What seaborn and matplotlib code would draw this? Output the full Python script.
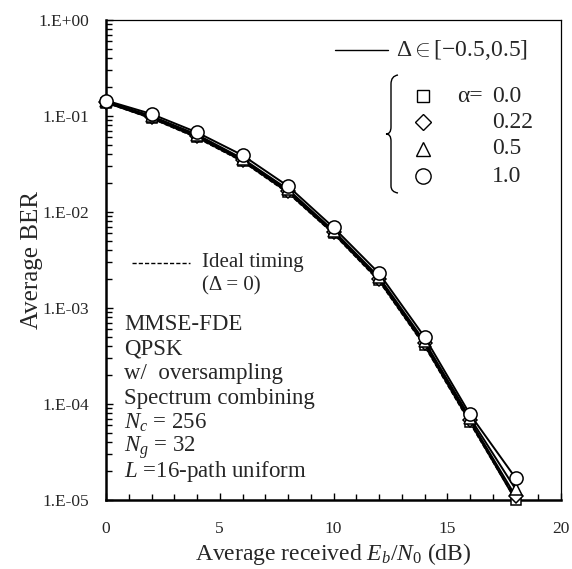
import matplotlib

matplotlib.use("Agg")

import matplotlib.pyplot as plt
import matplotlib.ticker as mticker
from matplotlib.path import Path
from matplotlib.patches import PathPatch
import numpy as np
import pandas as pd
import seaborn as sns

# ---- data ----
snr_db = [0, 2, 4, 6, 8, 10, 12, 14, 16, 18]
ber_alpha_00 = [0.138, 0.095, 0.060, 0.034, 0.0160, 0.0060, 0.00195, 0.00041, 6.5e-5, 1.0e-5]
ber_alpha_022 = [0.140, 0.098, 0.062, 0.035, 0.0167, 0.0062, 0.00200, 0.00043, 6.8e-5, 1.1e-5]
ber_alpha_05 = [0.142, 0.100, 0.064, 0.036, 0.0172, 0.0064, 0.00210, 0.00045, 7.2e-5, 1.3e-5]
ber_alpha_10 = [0.145, 0.105, 0.0675, 0.039, 0.0186, 0.0069, 0.00230, 0.00050, 7.8e-5, 1.7e-5]
ber_ideal_00 = [0.137, 0.094, 0.059, 0.0335, 0.0157, 0.0059, 0.00190, 0.00040, 6.3e-5, 1.0e-5]
ber_ideal_10 = [0.139, 0.096, 0.061, 0.0345, 0.0163, 0.0061, 0.00198, 0.00042, 6.6e-5, 1.05e-5]

alpha_labels = ["0.0", "0.22", "0.5", "1.0"]
alpha_markers = ["s", "D", "^", "o"]
alpha_series = [ber_alpha_00, ber_alpha_022, ber_alpha_05, ber_alpha_10]
ideal_series = [ber_ideal_00, ber_ideal_10]

notes = ["MMSE-FDE", "QPSK", "w/  oversampling", "Spectrum combining",
         r"$N_c$ = 256", r"$N_g$ = 32", r"$L$ =16-path uniform"]

sns.set_style("ticks")
plt.rcParams["font.family"] = ["Liberation Serif", "DejaVu Serif"]
plt.rcParams["mathtext.fontset"] = "custom"
plt.rcParams["mathtext.rm"] = "Liberation Serif"
plt.rcParams["mathtext.it"] = "Liberation Serif:italic"

W, H = 572, 569
fig = plt.figure(figsize=(W / 100, H / 100), dpi=100)
ax = fig.add_axes([106 / W, 1 - 500 / H, (561 - 106) / W, (500 - 20) / H])


def fx(px):
    return px / W


def fy(py):
    return 1 - py / H


for vals in ideal_series:
    df = pd.DataFrame({"snr": snr_db, "ber": vals})
    sns.lineplot(data=df, x="snr", y="ber", ax=ax, color="black", lw=1.0,
                 linestyle=(0, (3, 1.5)), zorder=2)

sizes = {"s": 7.5, "D": 7.0, "^": 8.0, "o": 9.5}
for vals, mk in zip(alpha_series, alpha_markers):
    df = pd.DataFrame({"snr": snr_db, "ber": vals})
    sns.lineplot(data=df, x="snr", y="ber", ax=ax, color="black", lw=1.4,
                 marker=mk, markersize=sizes[mk],
                 markerfacecolor="white", markeredgecolor="black",
                 markeredgewidth=1.1, clip_on=False, zorder=3)

ax.set_yscale("log")
ax.set_xlim(0, 20)
ax.set_ylim(1e-5, 1)
ax.xaxis.set_major_locator(mticker.MultipleLocator(5))
ax.xaxis.set_minor_locator(mticker.MultipleLocator(1))
ax.yaxis.set_major_locator(mticker.LogLocator(base=10, numticks=10))
ax.yaxis.set_minor_locator(mticker.LogLocator(base=10, subs=np.arange(2, 10), numticks=20))
ax.yaxis.set_minor_formatter(mticker.NullFormatter())
ax.yaxis.set_major_formatter(
    mticker.FuncFormatter(lambda v, p: "1.E{:+03d}".format(int(round(np.log10(v))))))

ax.tick_params(axis="both", which="both", direction="in", color="black",
               top=False, right=False)
ax.tick_params(axis="both", which="major", length=5, width=1.0, labelsize=12.5)
ax.tick_params(axis="both", which="minor", length=4, width=1.0)
ax.tick_params(axis="y", which="major", pad=12)
ax.tick_params(axis="x", which="major", pad=15)

for side in ["left", "bottom"]:
    ax.spines[side].set_linewidth(1.8)
for side in ["top", "right"]:
    ax.spines[side].set_linewidth(0.9)
for sp in ax.spines.values():
    sp.set_color("black")
    sp.set_visible(True)

ax.set_xlabel(r"Average received $E_b$/$N_0$ (dB)", fontsize=17)
ax.set_ylabel("Average BER", fontsize=18)
ax.xaxis.set_label_coords(0.5, -0.085)
ax.yaxis.set_label_coords(-0.138, 0.5)

# ---- custom legend (top right) ----
fig.add_artist(plt.Line2D([fx(335), fx(388)], [fy(50), fy(50)], color="black", lw=1.0))
fig.text(fx(396), fy(50), r"$\Delta\in$[$-$0.5,0.5]", fontsize=17, va="center", ha="left")

verts = [(398, 75), (391, 76), (391, 84), (391, 127), (391, 134), (386, 134),
         (391, 134), (391, 141), (391, 186), (391, 192), (398, 193)]
codes = [Path.MOVETO, Path.CURVE3, Path.CURVE3, Path.LINETO, Path.CURVE3, Path.CURVE3,
         Path.CURVE3, Path.CURVE3, Path.LINETO, Path.CURVE3, Path.CURVE3]
brace = Path([(fx(x), fy(y)) for x, y in verts], codes)
fig.add_artist(PathPatch(brace, transform=fig.transFigure, fill=False, lw=1.0, color="black"))

row_y = [96, 122, 149, 176]
for lab, mk, yy in zip(alpha_labels, alpha_markers, row_y):
    fig.add_artist(plt.Line2D([fx(423)], [fy(yy)], marker=mk, markersize=sizes[mk] + 1.5,
                              markerfacecolor="white", markeredgecolor="black",
                              markeredgewidth=1.0, linestyle="none"))
    fig.text(fx(492), fy(yy), lab, fontsize=17, va="center", ha="left")
fig.text(fx(457), fy(row_y[0]), "α=", fontsize=17, va="center", ha="left")

# ---- ideal timing key and notes ----
fig.add_artist(plt.Line2D([fx(132), fx(190)], [fy(263), fy(263)], color="black", lw=1.0,
                          linestyle=(0, (3, 1.5))))
fig.text(fx(202), fy(263), "Ideal timing", fontsize=15, va="center", ha="left")
fig.text(fx(202), fy(286), "(Δ = 0)", fontsize=15, va="center", ha="left")

for i, line in enumerate(notes):
    fig.text(fx(124), fy(325 + i * 24.5), line, fontsize=16.5, va="center", ha="left")

fig.savefig("out.png", dpi=100)
